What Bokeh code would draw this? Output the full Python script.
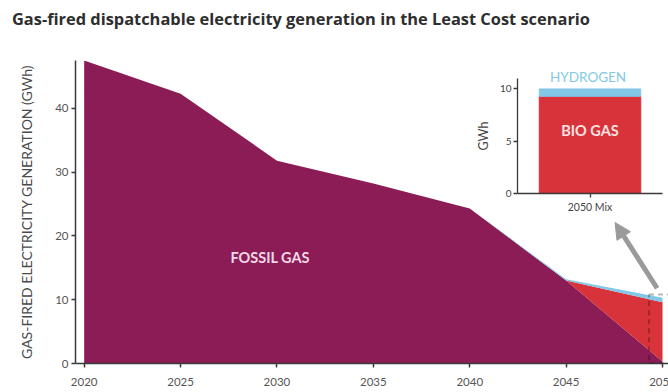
from bokeh.plotting import figure
from bokeh.models import (ColumnDataSource, Label, Arrow, NormalHead, BoxAnnotation,
                          GridBox, FixedTicker, Div)
from bokeh.embed import file_html
from bokeh.resources import INLINE

# ---- data ----
title_text = "Gas-fired dispatchable electricity generation in the Least Cost scenario"
years = [2020, 2025, 2030, 2035, 2040, 2045, 2050]
fossil_gas = [47.5, 42.3, 31.8, 28.2, 24.3, 13.0, 0.3]
bio_gas = [0.0, 0.0, 0.0, 0.0, 0.0, 0.0, 9.3]
hydrogen = [0.0, 0.0, 0.0, 0.0, 0.0, 0.2, 0.7]
x_ticks = [2020, 2025, 2030, 2035, 2040, 2045, 2050]
y_ticks = [0, 10, 20, 30, 40]

mix_category = ["2050 Mix"]
mix_bio_gas = [9.3]
mix_hydrogen = [0.7]
inset_y_ticks = [0, 5, 10]

FOSSIL = "#8b1c55"
BIO = "#d8323a"
H2 = "#82c8e6"
AXIS = "#3a3a3a"
TXT = "#555555"

# ---- main chart (wider than the window; the page crops it at 668 px like the source image) ----
src = ColumnDataSource(dict(year=years, fossil=fossil_gas, bio=bio_gas, h2=hydrogen))

p = figure(width=700, height=392, output_backend="svg", toolbar_location=None,
           x_range=(2019.55, 2051.97), y_range=(0, 47.5),
           min_border_left=75, min_border_right=0, min_border_top=60, min_border_bottom=29)

p.varea_stack(["fossil", "bio", "h2"], x="year", source=src, color=[FOSSIL, BIO, H2])

p.xgrid.visible = False
p.ygrid.visible = False
p.outline_line_color = None
p.background_fill_color = "white"
p.border_fill_color = "white"

for ax in (p.xaxis[0], p.yaxis[0]):
    ax.axis_line_color = AXIS
    ax.axis_line_width = 1.5
    ax.major_tick_line_color = AXIS
    ax.major_tick_line_width = 1.5
    ax.major_tick_out = 4
    ax.major_tick_in = 0
    ax.minor_tick_line_color = None
    ax.major_label_text_font = "Lato"
    ax.major_label_text_font_size = "11.5px"
    ax.major_label_text_color = TXT

p.xaxis.ticker = FixedTicker(ticks=x_ticks)
p.xaxis.major_label_standoff = 10
p.yaxis.ticker = FixedTicker(ticks=y_ticks)
p.yaxis.major_label_standoff = 3
p.yaxis.axis_label = "GAS-FIRED ELECTRICITY GENERATION (GWh)"
p.yaxis.axis_label_text_font = "Lato"
p.yaxis.axis_label_text_font_size = "14px"
p.yaxis.axis_label_text_font_style = "normal"
p.yaxis.axis_label_text_color = "#4a4a4a"
p.yaxis.axis_label_standoff = 17

p.add_layout(Label(x=2029.65, y=16.6, text="FOSSIL GAS", text_align="center",
                   text_baseline="middle", text_font="Lato", text_font_size="14.5px",
                   text_font_style="bold", text_color="#f6d8e8"))

p.add_layout(BoxAnnotation(left=2049.3, right=2050.7, bottom=0, top=10.8,
                           fill_alpha=0, line_color="#111111", line_width=2,
                           line_dash="5 4"))

p.add_layout(Arrow(x_start=2049.72, y_start=11.8, x_end=2047.54, y_end=22.1,
                   line_color="#9a9a9a", line_width=5,
                   end=NormalHead(size=16, fill_color="#9a9a9a", line_color="#9a9a9a")))

# inset's "HYDROGEN" caption (drawn on the main canvas, beneath the transparent inset)
p.add_layout(Label(x=2046.14, y=44.86, text="HYDROGEN", text_align="center",
                   text_baseline="middle", text_font="Lato", text_font_size="13.5px",
                   text_color=H2))

# ---- inset chart ----
isrc = ColumnDataSource(dict(mix=mix_category, bio=mix_bio_gas, h2=mix_hydrogen))
inset = figure(width=198, height=150, output_backend="svg", toolbar_location=None,
               x_range=mix_category, y_range=(0, 11),
               min_border_left=47, min_border_right=6, min_border_top=13, min_border_bottom=18)
inset.vbar_stack(["bio", "h2"], x="mix", width=0.7, source=isrc, color=[BIO, H2])
inset.xgrid.visible = False
inset.ygrid.visible = False
inset.outline_line_color = None
inset.border_fill_alpha = 0
inset.background_fill_alpha = 0
for ax in (inset.xaxis[0], inset.yaxis[0]):
    ax.axis_line_color = AXIS
    ax.axis_line_width = 1.3
    ax.major_tick_line_color = AXIS
    ax.major_tick_line_width = 1.3
    ax.major_tick_out = 4
    ax.major_tick_in = 0
    ax.minor_tick_line_color = None
    ax.major_label_text_font = "Lato"
    ax.major_label_text_font_size = "10px"
    ax.major_label_text_color = "#444444"
inset.xaxis.major_label_text_font_size = "10.5px"
inset.xaxis.major_label_standoff = 3
inset.yaxis.ticker = FixedTicker(ticks=inset_y_ticks)
inset.yaxis.major_label_standoff = 2
inset.yaxis.axis_label = "GWh"
inset.yaxis.axis_label_text_font = "Lato"
inset.yaxis.axis_label_text_font_size = "12.5px"
inset.yaxis.axis_label_text_font_style = "normal"
inset.yaxis.axis_label_text_color = "#444444"
inset.yaxis.axis_label_standoff = 6

inset.add_layout(Label(x=0.5, y=6.0, text="BIO GAS", text_align="center",
                       text_baseline="middle", text_font="Lato", text_font_size="14.5px",
                       text_font_style="bold", text_color="#fbe3e3"))

# ---- title ----
title = Div(text=title_text, width=668, height=40, margin=0,
            styles={"font-family": "Open Sans", "font-size": "16.4px", "font-weight": "bold",
                    "color": "#2e2e2e", "padding-left": "12px", "padding-top": "7px",
                    "white-space": "nowrap"})

grid = GridBox(children=[(p, 0, 0, 3, 3), (inset, 1, 1), (title, 0, 0, 1, 3)],
               rows=["65px", "150px", "177px"], cols=["470px", "198px", "32px"],
               width=668, height=392, styles={"overflow": "hidden"})

open("out.html", "w").write(file_html(grid, INLINE))
